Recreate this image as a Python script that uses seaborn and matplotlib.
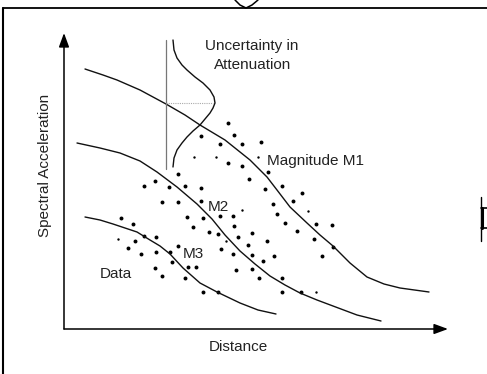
import matplotlib
matplotlib.use("Agg")
import matplotlib.pyplot as plt
from matplotlib.patches import ArrowStyle
import numpy as np
import pandas as pd
import seaborn as sns

# Attenuation curves: distance vs. spectral acceleration (schematic units)
m1_dist = [21, 39, 53, 76, 102, 121, 136, 161, 186, 203, 213, 226, 243, 256, 269, 286, 303, 320, 336, 365]
m1_acc = [260, 254, 249, 239, 225, 214, 204, 189, 169, 152, 139, 122, 106, 94, 83, 66, 52, 45, 41, 37]

m2_dist = [13, 36, 56, 76, 93, 113, 133, 148, 161, 176, 191, 206, 221, 236, 253, 269, 293, 317]
m2_acc = [186, 181, 176, 168, 157, 142, 125, 110, 94, 78, 65, 53, 44, 36, 29, 23, 14, 8]

m3_dist = [21, 36, 49, 61, 73, 86, 96, 106, 119, 136, 153, 176, 194, 212]
m3_acc = [112, 109, 105, 101, 97, 89, 83, 75, 61, 46, 37, 26, 19, 15]

# Observed records
data_dist = [164, 137, 170, 156, 178, 197, 164, 178, 204, 185, 114, 91, 80, 105, 121, 137,
             201, 218, 238, 229, 209, 213, 221, 233, 252, 268, 250, 269, 258, 98, 114, 137,
             123, 139, 156, 169, 129, 145, 154, 170, 188, 174, 203, 184, 157, 169, 188, 210,
             199, 172, 188, 195, 218, 218, 237, 57, 69, 71, 80, 92, 64, 77, 92, 106, 114,
             108, 91, 98, 121, 124, 132, 139, 154]
data_acc = [206, 193, 194, 185, 185, 187, 166, 163, 157, 150, 155, 148, 143, 142, 143, 141,
            140, 143, 136, 128, 125, 115, 106, 98, 105, 104, 90, 82, 73, 127, 127, 128,
            112, 111, 113, 113, 102, 97, 95, 103, 96, 92, 88, 84, 80, 75, 74, 73,
            68, 59, 60, 51, 51, 37, 37, 111, 105, 88, 93, 92, 81, 75, 77, 77, 83,
            67, 61, 53, 51, 62, 62, 37, 37]
small_dist = [130, 152, 194, 244, 178, 162, 252, 54]
small_acc = [172, 172, 172, 118, 119, 88, 37, 90]

# Distribution of the attenuation about the M1 curve at one distance
pdf_dist = [109, 110, 113, 118, 123, 131, 139, 146, 150, 151, 149, 146, 141, 136, 129, 123, 118, 113, 110, 109]
pdf_acc = [289, 279, 271, 264, 259, 252, 246, 239, 232, 226, 221, 216, 210, 204, 198, 192, 186, 179, 171, 162]
ref_dist = 102
ref_acc_lo, ref_acc_hi = 160, 289
ref_level = 226
ref_level_end = 149

sns.set_style("white")
plt.rcParams["font.family"] = ["Liberation Sans", "DejaVu Sans"]

fig = plt.figure(figsize=(4.87, 3.74), dpi=100)
ax = fig.add_axes([0, 0, 1, 1])
ax.set_xlim(-64, 423)
ax.set_ylim(-45, 329)
ax.axis("off")

ink = "#111111"
curves = pd.concat([
    pd.DataFrame({"distance": m1_dist, "acc": m1_acc, "curve": "M1"}),
    pd.DataFrame({"distance": m2_dist, "acc": m2_acc, "curve": "M2"}),
    pd.DataFrame({"distance": m3_dist, "acc": m3_acc, "curve": "M3"}),
])
sns.lineplot(data=curves, x="distance", y="acc", units="curve", estimator=None,
             sort=False, color=ink, lw=1.0, ax=ax, legend=False)

sns.scatterplot(x=data_dist, y=data_acc, s=8, color="black", linewidth=0, ax=ax)
sns.scatterplot(x=small_dist, y=small_acc, s=3, color="black", linewidth=0, ax=ax)

# Uncertainty sketch
ax.plot([ref_dist, ref_dist], [ref_acc_lo, ref_acc_hi], color="#777777", lw=0.9)
ax.plot([ref_dist, ref_level_end], [ref_level, ref_level], color="#aaaaaa", lw=0.8, ls=(0, (1, 1)))
sns.lineplot(x=pdf_dist, y=pdf_acc, sort=False, estimator=None, color=ink, lw=1.0, ax=ax)

# Axes with arrow heads
head = ArrowStyle("-|>", head_length=0.6, head_width=0.22)
for tip in [(0, 296), (384, 0)]:
    ax.annotate("", xy=tip, xytext=(0, 0),
                arrowprops=dict(arrowstyle=head, mutation_scale=14, lw=1.1,
                                color="black", shrinkA=0, shrinkB=0))

# Surrounding frame
ax.plot([-61, 423], [321, 321], color="black", lw=1.3)
ax.plot([-61, -61], [321, -45], color="black", lw=1.5)
ax.plot([171, 176, 182, 188, 194], [329, 324, 321, 324, 329], color="black", lw=1.1)
ax.plot([417, 417], [88, 132], color="black", lw=1.0)
ax.plot([418, 418], [101, 121], color="black", lw=2.2)
ax.plot([417, 423], [121, 121], color="black", lw=1.2)
ax.plot([417, 423], [101, 101], color="black", lw=1.2)

tc = "#222222"
fs = 11
ax.text(188, 283, "Uncertainty in", ha="center", va="center", fontsize=fs, color=tc)
ax.text(189, 264, "Attenuation", ha="center", va="center", fontsize=fs, color=tc)
ax.text(203, 168, "Magnitude M1", ha="left", va="center", fontsize=fs, color=tc)
ax.text(154, 122, "M2", ha="center", va="center", fontsize=fs, color=tc)
ax.text(129.5, 75, "M3", ha="center", va="center", fontsize=fs, color=tc)
ax.text(51.5, 55, "Data", ha="center", va="center", fontsize=fs, color=tc)
ax.text(174, -18, "Distance", ha="center", va="center", fontsize=fs, color=tc)
ax.text(-19, 164, "Spectral Acceleration", ha="center", va="center", rotation=90,
        fontsize=fs, color=tc)

fig.savefig("out.png", dpi=100)
